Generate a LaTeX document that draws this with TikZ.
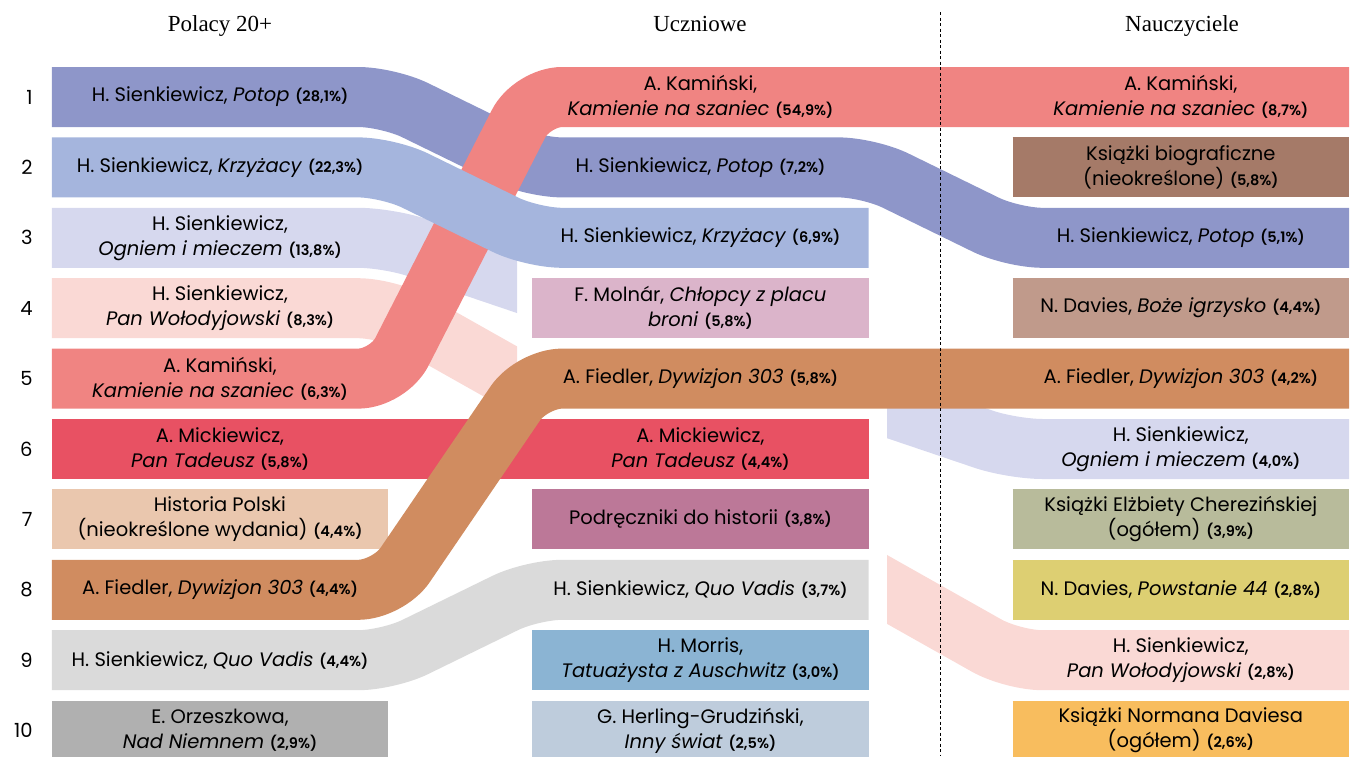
\documentclass[tikz,border=0pt]{standalone}
\usepackage{fontspec}
\newfontfamily\bookfont[BoldFont={* SemiBold}]{Poppins}
\newfontfamily\headfont{Liberation Serif}
\usetikzlibrary{positioning}
\pgfdeclarelayer{background}
\pgfsetlayers{background,main}

\definecolor{potop}{HTML}{8E96C9}
\definecolor{krzyz}{HTML}{A5B5DD}
\definecolor{ogniem}{HTML}{D6D8EE}
\definecolor{wolod}{HTML}{FAD9D5}
\definecolor{kamien}{HTML}{F08482}
\definecolor{tadeusz}{HTML}{E85163}
\definecolor{histpl}{HTML}{EAC7AE}
\definecolor{fiedler}{HTML}{D08C60}
\definecolor{quovadis}{HTML}{DADADA}
\definecolor{orzesz}{HTML}{B0B0B0}
\definecolor{molnar}{HTML}{DBB4CA}
\definecolor{podr}{HTML}{BC7898}
\definecolor{morris}{HTML}{8BB4D3}
\definecolor{herling}{HTML}{BECCDC}
\definecolor{biogr}{HTML}{A57A68}
\definecolor{igrz}{HTML}{C09A8B}
\definecolor{cherez}{HTML}{B8BB9B}
\definecolor{powst}{HTML}{DDCF72}
\definecolor{davies}{HTML}{F8BD5E}

\newcommand{\pcnt}[1]{\hspace{0.3em}{\fontsize{14.5}{17}\selectfont\bfseries(#1\%)}}

\tikzset{
    book/.style={minimum width=336pt, minimum height=60pt, inner sep=0pt, align=center,
        font=\bookfont\fontsize{19.5}{25}\selectfont},
    band/.style={line width=60pt, rounded corners=30pt},
    rank/.style={inner sep=0pt, font=\bookfont\fontsize{19.5}{24}\selectfont},
    colhead/.style={inner sep=0pt, anchor=base, font=\headfont\fontsize{23}{28}\selectfont},
}

\begin{document}
\begin{tikzpicture}[x=1pt, y=-1pt]
    \useasboundingbox (0,0) rectangle (1366,756);

    \node[colhead] (t1) at (220,31.5) {Polacy 20+};
    \node[colhead] (t2) at (700,31.5) {Uczniowe};
    \node[colhead] (t3) at (1182,31.5) {Nauczyciele};

    % Polacy 20+
    \node[book] (p1) at (220,97) {H. Sienkiewicz, \textit{Potop}\pcnt{28,1}};
    \node[book, below=10pt of p1] (p2) {H. Sienkiewicz, \textit{Krzyżacy}\pcnt{22,3}};
    \node[book, below=10pt of p2] (p3) {H. Sienkiewicz,\\ \textit{Ogniem i mieczem}\pcnt{13,8}};
    \node[book, below=10pt of p3] (p4) {H. Sienkiewicz,\\ \textit{Pan Wołodyjowski}\pcnt{8,3}};
    \node[book, below=10pt of p4] (p5) {A. Kamiński,\\ \textit{Kamienie na szaniec}\pcnt{6,3}};
    \node[book, below=10pt of p5] (p6) {A. Mickiewicz,\\ \textit{Pan Tadeusz}\pcnt{5,8}};
    \node[book, below=10pt of p6] (p7) {Historia Polski\\ (nieokreślone wydania)\pcnt{4,4}};
    \node[book, below=10pt of p7] (p8) {A. Fiedler, \textit{Dywizjon 303}\pcnt{4,4}};
    \node[book, below=10pt of p8] (p9) {H. Sienkiewicz, \textit{Quo Vadis}\pcnt{4,4}};
    \node[book, below=10pt of p9] (p10) {E. Orzeszkowa,\\ \textit{Nad Niemnem}\pcnt{2,9}};

    % Uczniowie
    \node[book, right=144pt of p1] (u1) {A. Kamiński,\\ \textit{Kamienie na szaniec}\pcnt{54,9}};
    \node[book, below=10pt of u1] (u2) {H. Sienkiewicz, \textit{Potop}\pcnt{7,2}};
    \node[book, below=10pt of u2] (u3) {H. Sienkiewicz, \textit{Krzyżacy}\pcnt{6,9}};
    \node[book, below=10pt of u3] (u4) {F. Molnár, \textit{Chłopcy z placu}\\ \textit{broni}\pcnt{5,8}};
    \node[book, below=10pt of u4] (u5) {A. Fiedler, \textit{Dywizjon 303}\pcnt{5,8}};
    \node[book, below=10pt of u5] (u6) {A. Mickiewicz,\\ \textit{Pan Tadeusz}\pcnt{4,4}};
    \node[book, below=10pt of u6] (u7) {Podręczniki do historii\pcnt{3,8}};
    \node[book, below=10pt of u7] (u8) {H. Sienkiewicz, \textit{Quo Vadis}\pcnt{3,7}};
    \node[book, below=10pt of u8] (u9) {H. Morris,\\ \textit{Tatuażysta z Auschwitz}\pcnt{3,0}};
    \node[book, below=10pt of u9] (u10) {G. Herling-Grudziński,\\ \textit{Inny świat}\pcnt{2,5}};

    % Nauczyciele
    \node[book, right=144pt of u1] (n1) {A. Kamiński,\\ \textit{Kamienie na szaniec}\pcnt{8,7}};
    \node[book, below=10pt of n1] (n2) {Książki biograficzne\\ (nieokreślone)\pcnt{5,8}};
    \node[book, below=10pt of n2] (n3) {H. Sienkiewicz, \textit{Potop}\pcnt{5,1}};
    \node[book, below=10pt of n3] (n4) {N. Davies, \textit{Boże igrzysko}\pcnt{4,4}};
    \node[book, below=10pt of n4] (n5) {A. Fiedler, \textit{Dywizjon 303}\pcnt{4,2}};
    \node[book, below=10pt of n5] (n6) {H. Sienkiewicz,\\ \textit{Ogniem i mieczem}\pcnt{4,0}};
    \node[book, below=10pt of n6] (n7) {Książki Elżbiety Cherezińskiej\\ (ogółem)\pcnt{3,9}};
    \node[book, below=10pt of n7] (n8) {N. Davies, \textit{Powstanie 44}\pcnt{2,8}};
    \node[book, below=10pt of n8] (n9) {H. Sienkiewicz,\\ \textit{Pan Wołodyjowski}\pcnt{2,8}};
    \node[book, below=10pt of n9] (n10) {Książki Normana Daviesa\\ (ogółem)\pcnt{2,6}};

    \foreach \i in {1,...,10}
        \node[rank, left=19pt of p\i] (k\i) {\i};

    \begin{pgfonlayer}{background}
        % single boxes
        \foreach \b/\c in {p7/histpl, p10/orzesz, u4/molnar, u7/podr, u9/morris, u10/herling,
                n2/biogr, n4/igrz, n7/cherez, n8/powst, n10/davies}
            \draw[band, \c] (\b.west) -- (\b.east);

        % flows missing in the middle column
        \begin{scope}
            \clip (0,0) rectangle (517,756);
            \draw[band, ogniem] (p3.west) -- (p3.east) -- (n6.west) -- (n6.east);
            \draw[band, wolod] (p4.west) -- (p4.east) -- (n9.west) -- (n9.east);
        \end{scope}
        \begin{scope}
            \clip (887,0) rectangle (1366,756);
            \draw[band, ogniem] (p3.west) -- (p3.east) -- (n6.west) -- (n6.east);
            \draw[band, wolod] (p4.west) -- (p4.east) -- (n9.west) -- (n9.east);
        \end{scope}

        \draw[band, potop] (p1.west) -- (p1.east) -- (u2.west) -- (u2.east) -- (n3.west) -- (n3.east);
        \draw[band, kamien] (p5.west) -- (p5.east) -- (u1.west) -- (n1.east);
        \draw[band, krzyz] (p2.west) -- (p2.east) -- (u3.west) -- (u3.east);
        \draw[band, tadeusz] (p6.west) -- (u6.east);
        \draw[band, fiedler] (p8.west) -- (p8.east) -- (u5.west) -- (n5.east);
        \draw[band, quovadis] (p9.west) -- (p9.east) -- (u8.west) -- (u8.east);
    \end{pgfonlayer}

    \coordinate (s1) at (940,12);
    \coordinate (s2) at (940,756);
    \draw[line width=0.8pt, dash pattern=on 3pt off 2.5pt] (s1) -- (s2);
\end{tikzpicture}
\end{document}
